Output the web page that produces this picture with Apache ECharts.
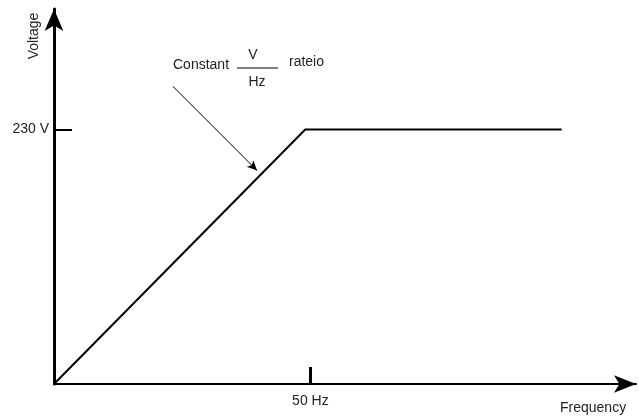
<!DOCTYPE html>
<html>
<head>
<meta charset="utf-8">
<script src="https://cdn.jsdelivr.net/npm/echarts@6/dist/echarts.min.js"></script>
<style>
  html, body { margin: 0; padding: 0; background: #fff; }
  #chart { width: 639px; height: 416px; }
</style>
</head>
<body>
<div id="chart"></div>
<script>
// V/f characteristic: voltage rises linearly up to base frequency, then stays flat
var freqHz = [0, 49, 99];
var voltV = [0, 230, 230];

var xTickValues = [50];
var xTickLabels = ['50 Hz'];
var yTickValues = [230];
var yTickLabels = ['230 V'];

// annotation arrow, in data units (Hz, V)
var noteArrowFrom = [23.2, 269];
var noteArrowTo = [39.6, 193];

var font = 'Liberation Sans, Arial, sans-serif';
var textColor = '#222';
var fontCss = '14px ' + font;

var chart = echarts.init(document.getElementById('chart'));

chart.setOption({
  animation: false,
  backgroundColor: '#fff',
  grid: {
    left: 54, right: 3, top: 9, bottom: 32,
    containLabel: false,
    outerBoundsMode: 'none'
  },
  xAxis: {
    type: 'value',
    min: 0,
    max: 113.5,
    axisLine: {
      show: true,
      symbol: ['none', 'arrow'],
      symbolSize: [13, 22],
      lineStyle: { color: '#000', width: 2 }
    },
    axisTick: {
      show: true,
      inside: true,
      length: 17,
      customValues: xTickValues,
      lineStyle: { color: '#000', width: 3 }
    },
    axisLabel: {
      show: true,
      customValues: xTickValues,
      margin: 10,
      color: textColor,
      fontFamily: font,
      fontSize: 14,
      formatter: function (v) { return xTickLabels[xTickValues.indexOf(v)] || ''; }
    },
    splitLine: { show: false }
  },
  yAxis: {
    type: 'value',
    min: 0,
    max: 339,
    axisLine: {
      show: true,
      symbol: ['none', 'arrow'],
      symbolSize: [14, 22],
      lineStyle: { color: '#000', width: 3 }
    },
    axisTick: {
      show: true,
      inside: true,
      length: 18,
      customValues: yTickValues,
      lineStyle: { color: '#000', width: 2 }
    },
    axisLabel: {
      show: true,
      customValues: yTickValues,
      margin: 5,
      color: textColor,
      fontFamily: font,
      fontSize: 14,
      formatter: function (v) { return yTickLabels[yTickValues.indexOf(v)] || ''; }
    },
    splitLine: { show: false }
  },
  series: [{
    type: 'line',
    data: freqHz.map(function (f, i) { return [f, voltV[i]]; }),
    symbol: 'none',
    silent: true,
    lineStyle: { color: '#000', width: 2 },
    markLine: {
      silent: true,
      symbol: ['none', 'arrow'],
      symbolSize: [7, 10],
      label: { show: false },
      lineStyle: { color: '#000', width: 1, type: 'solid' },
      data: [[{ coord: noteArrowFrom }, { coord: noteArrowTo }]]
    }
  }],
  graphic: [
    {
      type: 'text', x: 34, y: 36, rotation: Math.PI / 2,
      style: { text: 'Voltage', fill: textColor, font: fontCss, textAlign: 'center', textVerticalAlign: 'middle' }
    },
    {
      type: 'text', x: 173, y: 65,
      style: { text: 'Constant', fill: textColor, font: fontCss, textAlign: 'left', textVerticalAlign: 'middle' }
    },
    {
      type: 'text', x: 253, y: 55,
      style: { text: 'V', fill: textColor, font: fontCss, textAlign: 'center', textVerticalAlign: 'middle' }
    },
    {
      type: 'line',
      shape: { x1: 237, y1: 68, x2: 278, y2: 68 },
      style: { stroke: '#000', lineWidth: 1 }
    },
    {
      type: 'text', x: 257, y: 82,
      style: { text: 'Hz', fill: textColor, font: fontCss, textAlign: 'center', textVerticalAlign: 'middle' }
    },
    {
      type: 'text', x: 289, y: 62,
      style: { text: 'rateio', fill: textColor, font: fontCss, textAlign: 'left', textVerticalAlign: 'middle' }
    },
    {
      type: 'text', x: 560, y: 408,
      style: { text: 'Frequency', fill: textColor, font: fontCss, textAlign: 'left', textVerticalAlign: 'middle' }
    }
  ]
});
</script>
</body>
</html>
